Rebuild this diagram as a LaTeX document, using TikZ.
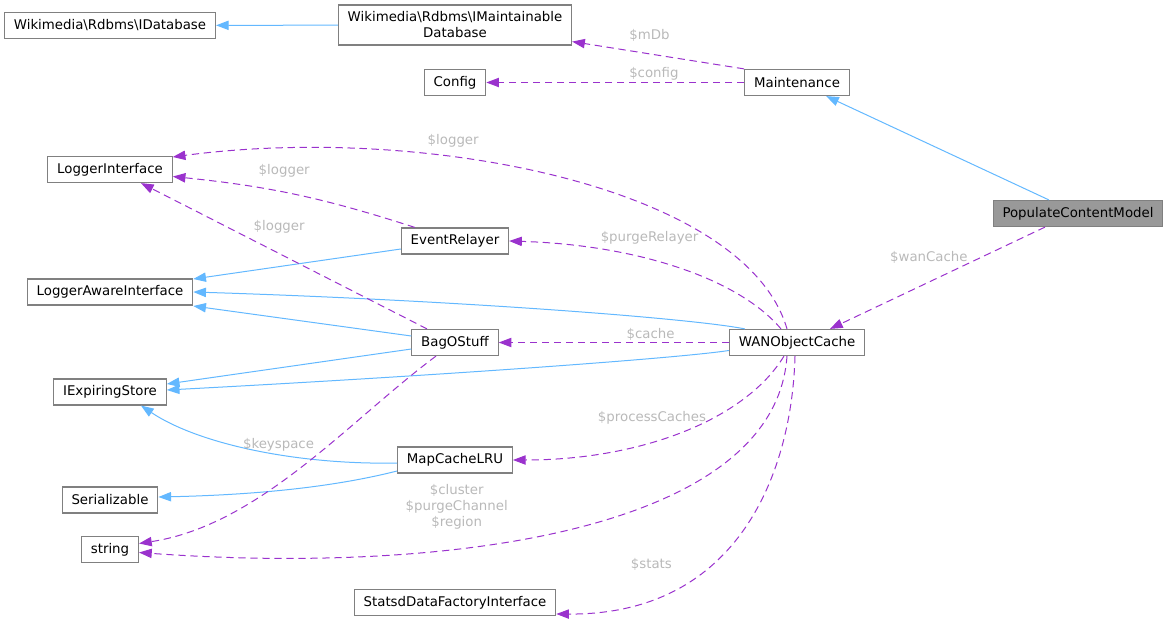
\documentclass[tikz,border=0pt]{standalone}
\usepackage{fontspec}
\setmainfont{DejaVu Sans}
\usepackage{tikz}
\usetikzlibrary{arrows.meta}
\usetikzlibrary{calc}

\definecolor{inhblue}{HTML}{63B8FF}
\definecolor{usepurple}{HTML}{9A32CD}
\definecolor{boxgray}{HTML}{999999}

\begin{document}
\begin{tikzpicture}[x=0.75pt,y=-0.75pt,
		cls/.style={draw=gray, line width=0.9pt, fill=white, minimum height=19.5pt, inner xsep=7pt, inner ysep=2pt, font=\fontsize{10}{12}\selectfont},
		isa/.style={color=inhblue, line width=0.75pt, -{Triangle[length=9.5pt,width=7pt]}},
		has/.style={color=usepurple, line width=0.75pt, dash pattern=on 5.5pt off 3.5pt, -{Triangle[length=9.5pt,width=7pt]}},
		lbl/.style={text=gray!55, font=\fontsize{10}{12}\selectfont, inner sep=1pt}]
		\useasboundingbox (0,0) rectangle (1168,621);
		\node[cls] (idb) at (110,25.5) {Wikimedia\textbackslash Rdbms\textbackslash IDatabase};
		\node[cls, align=center, minimum height=30pt] (imdb) at (455,25) {Wikimedia\textbackslash Rdbms\textbackslash IMaintainable\\Database};
		\node[cls] (cfg) at (455,82.5) {Config};
		\node[cls] (maint) at (797,82.5) {Maintenance};
		\node[cls, fill=boxgray] (pcm) at (1078,213.5) {PopulateContentModel};
		\node[cls] (li) at (110,169.5) {LoggerInterface};
		\node[cls] (er) at (455,241) {EventRelayer};
		\node[cls] (lai) at (110,292) {LoggerAwareInterface};
		\node[cls] (bag) at (455,342.5) {BagOStuff};
		\node[cls] (wan) at (797,342.5) {WANObjectCache};
		\node[cls] (ies) at (110,392) {IExpiringStore};
		\node[cls] (mcl) at (455,460) {MapCacheLRU};
		\node[cls] (ser) at (110,500) {Serializable};
		\node[cls] (str) at (110,549.5) {string};
		\node[cls] (sdf) at (455,602.5) {StatsdDataFactoryInterface};
		\path[isa]
		(imdb) edge (idb)
		(pcm) edge (maint)
		($(er.west)+(0,8)$) edge ($(lai.east)+(0,-13)$)
		($(bag.west)+(0,-6.5)$) edge ($(lai.east)+(0,14)$)
		($(bag.west)+(0,6.5)$) edge ($(ies.east)+(0,-8)$)
		;
		\draw[isa] ($(wan.north west)+(16,0)$) .. controls (690,318) and (450,300) .. (lai.east);
		\draw[isa] ($(wan.west)+(0,8)$) .. controls (680,358) and (450,375) .. ($(ies.east)+(0,-2)$);
		\draw[isa] ($(mcl.west)+(0,3)$) .. controls (300,465) and (200,445) .. ($(ies.south)+(31,0)$);
		\draw[isa] ($(mcl.west)+(0,11)$) .. controls (330,488) and (250,495) .. ($(ser.east)+(0,-3)$);
		\path[has]
		(maint.north west) edge node[lbl, pos=.55, above=8pt] (lmdb) {\$mDb} ($(imdb.south east)+(0,-4)$)
		(maint.west) edge node[lbl, pos=.35, above=0pt] (lcfg) {\$config} (cfg.east)
		($(pcm.south)+(-33,0)$) edge node[lbl, pos=.54, above=12.5pt] (lwan) {\$wanCache} ($(wan.north)+(33,0)$)
		(wan.west) edge node[lbl, pos=.34, above=0pt] (lcache) {\$cache} (bag.east)
		($(er.north west)+(14,0)$) edge[bend right=6] node[lbl, pos=.55, above=10pt] (llog1) {\$logger} ($(li.east)+(0,7)$)
		($(bag.north)+(-28,0)$) edge node[lbl, pos=.517, above=14pt] (llog2) {\$logger} ($(li.south)+(31,0)$)
		;
		\draw[has] ($(wan.north)+(-10,0)$) .. controls (745,185) and (420,124) .. ($(li.east)+(0,-12.5)$)
		node[lbl, pos=.64, above=6pt] (llog0) {\$logger};
		\draw[has] ($(wan.north)+(-16,0)$) .. controls (740,280) and (640,245) .. (er.east)
		node[lbl, pos=.6, above=10pt] (lpurge) {\$purgeRelayer};
		\draw[has] ($(bag.south)+(-19,0)$) .. controls (350,420) and (260,525) .. ($(str.east)+(0,-6)$)
		node[lbl, pos=.4, left=10pt] (lkey) {\$keyspace};
		\draw[has] ($(wan.south)+(-13,0)$) .. controls (745,420) and (640,460) .. (mcl.east)
		node[lbl, pos=.6, above=12pt] (lproc) {\$processCaches};
		\draw[has] ($(wan.south)+(-10,0)$) .. controls (775,530) and (450,575) .. ($(str.east)+(0,3)$)
		node[lbl, pos=.65, above=13pt, align=center] (lclu) {\$cluster\\\$purgeChannel\\\$region};
		\draw[has] ($(wan.south)+(-2,0)$) .. controls (792,470) and (740,615) .. ($(sdf.east)+(0,11.5)$)
		node[lbl, pos=.8, above=20pt] (lstats) {\$stats};
\end{tikzpicture}
\end{document}
